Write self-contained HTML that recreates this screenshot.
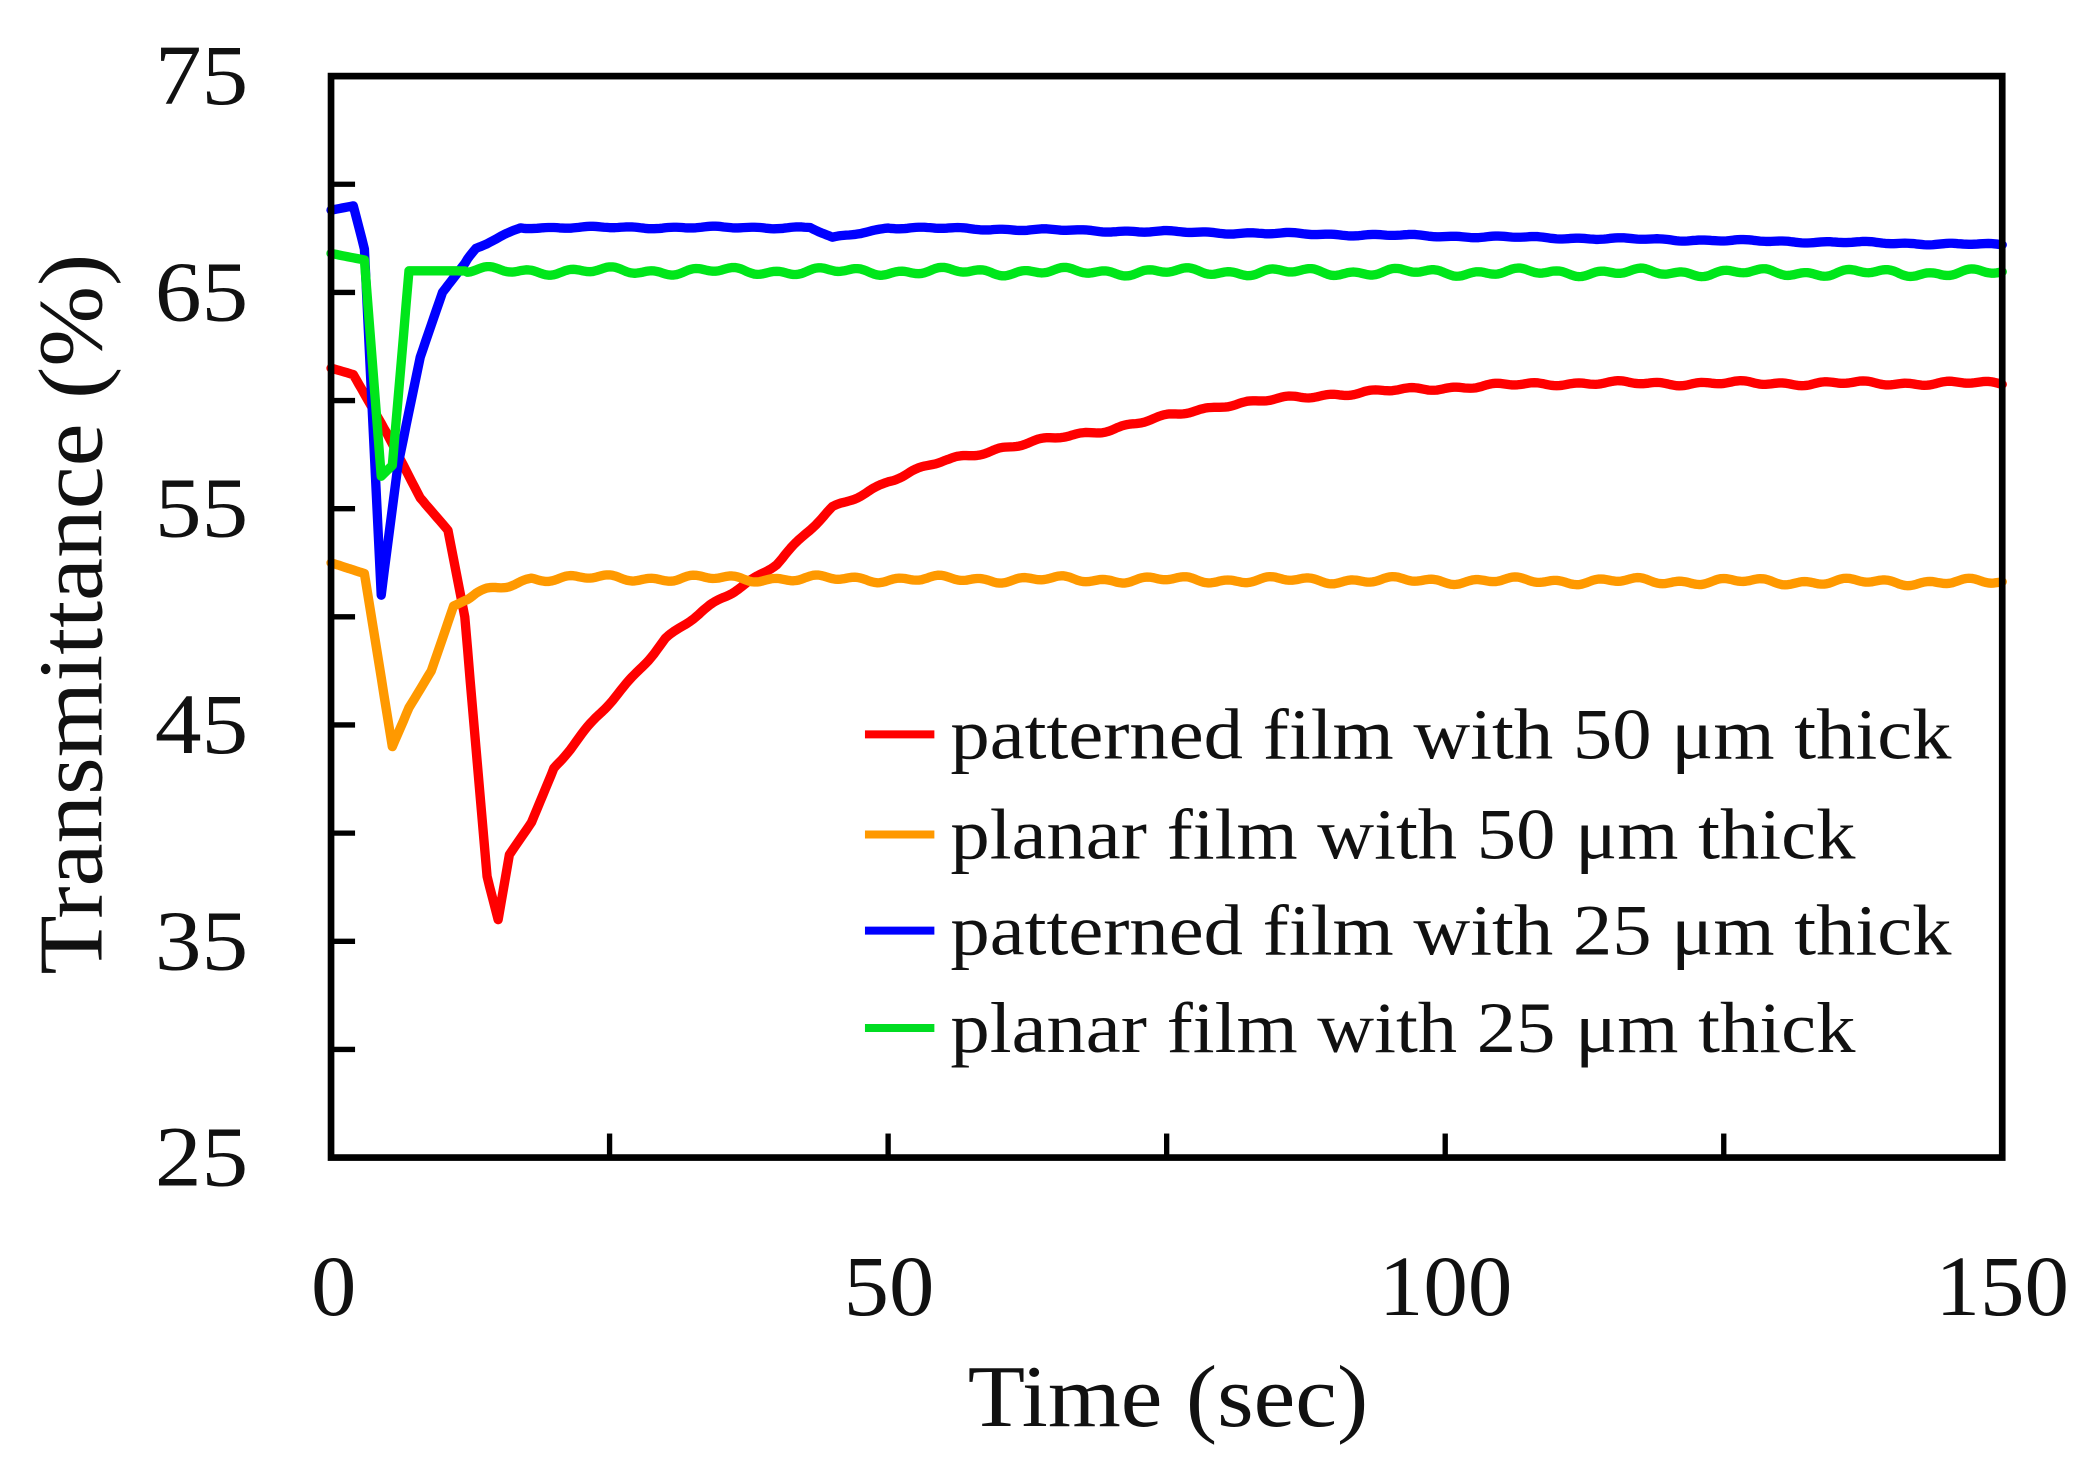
<!DOCTYPE html>
<html><head><meta charset="utf-8"><style>
html,body{margin:0;padding:0;background:#fff}
svg{display:block}
text{font-family:"Liberation Serif",serif;fill:#111}
</style></head><body>
<svg id="s" width="2093" height="1482" viewBox="0 0 1568 1110" preserveAspectRatio="none" xmlns="http://www.w3.org/2000/svg">
<g id="ticks" stroke="#000" stroke-width="4"></g>
<g id="series" fill="none" stroke-width="7" stroke-linejoin="round" stroke-linecap="round"></g>
<rect x="248" y="57" width="1252" height="810" fill="none" stroke="#000" stroke-width="5"/>
<g font-size="64" text-anchor="end">
<text x="186" y="78" textLength="70" lengthAdjust="spacingAndGlyphs">75</text>
<text x="186" y="240" textLength="70" lengthAdjust="spacingAndGlyphs">65</text>
<text x="186" y="402" textLength="70" lengthAdjust="spacingAndGlyphs">55</text>
<text x="186" y="564" textLength="70" lengthAdjust="spacingAndGlyphs">45</text>
<text x="186" y="726" textLength="70" lengthAdjust="spacingAndGlyphs">35</text>
<text x="186" y="888" textLength="70" lengthAdjust="spacingAndGlyphs">25</text>
</g>
<g font-size="64" text-anchor="middle">
<text x="250" y="985" textLength="34" lengthAdjust="spacingAndGlyphs">0</text>
<text x="666" y="985" textLength="68" lengthAdjust="spacingAndGlyphs">50</text>
<text x="1083" y="985" textLength="100" lengthAdjust="spacingAndGlyphs">100</text>
<text x="1500" y="985" textLength="100" lengthAdjust="spacingAndGlyphs">150</text>
</g>
<text x="875" y="1068" font-size="66" text-anchor="middle" textLength="300" lengthAdjust="spacingAndGlyphs">Time (sec)</text>
<text transform="translate(76,460) rotate(-90)" font-size="68" text-anchor="middle" textLength="540" lengthAdjust="spacingAndGlyphs">Transmittance (%)</text>
<g stroke-width="6">
<line x1="648" y1="550" x2="700" y2="550" stroke="#ff0000"/>
<line x1="648" y1="625" x2="700" y2="625" stroke="#ff9900"/>
<line x1="648" y1="697" x2="700" y2="697" stroke="#0000ff"/>
<line x1="648" y1="770" x2="700" y2="770" stroke="#00dd22"/>
</g>
<g font-size="54">
<text x="712" y="568" textLength="750" lengthAdjust="spacingAndGlyphs">patterned film  with 50 μm thick</text>
<text x="712" y="643" textLength="678" lengthAdjust="spacingAndGlyphs">planar film with 50 μm thick</text>
<text x="712" y="715" textLength="750" lengthAdjust="spacingAndGlyphs">patterned film  with 25 μm thick</text>
<text x="712" y="788" textLength="678" lengthAdjust="spacingAndGlyphs">planar film with 25 μm thick</text>
</g>
</svg>
<script>
var X=t=>248+t*8.347, Y=v=>867-(v-25)*16.2;
var tk=document.getElementById('ticks'),h='';
for(var v=30;v<75;v+=5){h+='<line x1="248" x2="266" y1="'+Y(v)+'" y2="'+Y(v)+'"/>';}
for(var t=25;t<150;t+=25){h+='<line y1="867" y2="849" x1="'+X(t)+'" x2="'+X(t)+'"/>';}
tk.innerHTML=h;
function interp(pts,t){for(var i=0;i<pts.length-1;i++){if(t<=pts[i+1][0]){var a=pts[i],b=pts[i+1];return a[1]+(b[1]-a[1])*(t-a[0])/(b[0]-a[0]);}}return pts[pts.length-1][1];}
function noise(t,seed,amp){return amp*(Math.sin(t*1.7+seed)*0.5+Math.sin(t*0.61+seed*2)*0.5);}
var S=[
['#ff0000',[[0,61.5],[2,61.2],[5,58.5],[8,55.5],[10.5,54],[12,50],[14,38],[15,36],[16,39],[18,40.5],[20,43],[25,46],[30,49],[35,50.8],[40,52.5],[45,55],[50,56.3],[55,57.2],[60,57.8],[70,58.7],[80,59.8],[90,60.3],[100,60.6],[110,60.8],[150,60.8]],0.12],
['#ff9900',[[0,52.5],[3,52],[5.5,44],[7,45.8],[9,47.5],[11,50.5],[13,51],[18,51.8],[150,51.6]],0.18],
['#0000ff',[[0,68.8],[2,69],[3,67],[4.5,51],[6,57],[8,62],[10,65],[13,67],[17,68],[43,68],[45,67.5],[50,68],[150,67.2]],0.06],
['#00e61a',[[0,66.8],[3,66.5],[4.5,56.5],[5.5,57],[7,66],[150,65.9]],0.2]
];
var g=document.getElementById('series'),out='';
S.forEach(function(s,k){var p=[];for(var t=0;t<=150;t+=0.25){var v=interp(s[1],t);if(t>(k==0?20:12))v+=noise(t,k*3,s[2]);p.push(X(t).toFixed(1)+','+Y(v).toFixed(1));}
out+='<polyline stroke="'+s[0]+'" points="'+p.join(' ')+'"/>';});
g.innerHTML=out;
</script>
</body></html>
